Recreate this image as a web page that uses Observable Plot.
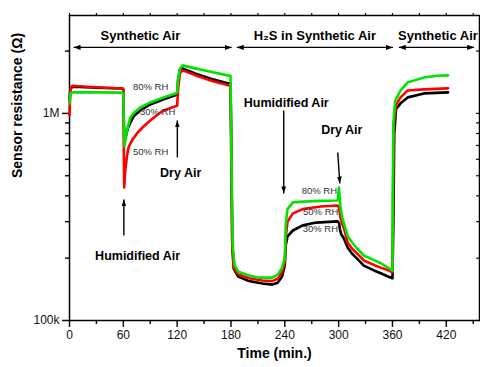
<!DOCTYPE html>
<html>
<head>
<meta charset="utf-8">
<script src="https://cdn.jsdelivr.net/npm/d3@7"></script>
<script src="https://cdn.jsdelivr.net/npm/@observablehq/plot@0.6"></script>
<style>
  body { margin: 0; background: #fff; }
  #chart svg { display: block; }
</style>
</head>
<body>
<div id="chart"></div>
<script>
// Sensor resistance (kΩ) over time (min) for three humidity levels
const rh30 = [[0,1150],[1,1330],[5,1345],[30,1330],[59,1320],[60,1300],[60.6,900],[61.5,741],[63,780],[65,850],[68,905],[72,975],[79,1034],[90,1105],[105,1169],[118,1222],[120,1240],[121,1450],[123,1620],[126,1650],[140,1560],[160,1460],[176,1400],[179.5,1390],[180.5,500],[181.5,230],[183,178],[188,163],[200,155],[215,151],[226,149],[232,152],[237,163],[240,185],[241,230],[243,255],[249,272],[260,288],[275,297],[299,301],[300.5,295],[301.5,275],[303,260],[306,248],[310,225],[315,210],[320,200],[328,184],[340,174],[347,169],[355,163],[360,160],[361,300],[362,800],[364,1050],[369,1118],[377,1195],[395,1249],[422,1263]];
const rh50 = [[0,980],[1,1300],[3,1360],[20,1345],[40,1330],[59,1320],[60,1310],[60.5,700],[61,439],[62,520],[64,620],[66,690],[70,745],[76,809],[82,860],[90,925],[98,985],[105,1034],[112,1060],[119,1085],[120,1090],[121,1300],[123,1560],[126,1613],[140,1530],[160,1430],[176,1370],[179.5,1366],[180.5,700],[181.3,240],[183,180],[188,167],[200,160],[215,156],[226,155],[233,160],[237,172],[240,192],[241,250],[243,300],[249,329],[260,345],[280,355],[299,359],[300.5,350],[302,315],[304,292],[306,278],[310,238],[315,222],[320,212],[328,195],[340,185],[347,180],[355,175],[360,171],[360.6,400],[361.5,900],[364,1100],[369,1195],[377,1291],[395,1306],[422,1321]];
const rh80 = [[0,1118],[1,1250],[3,1263],[30,1263],[59,1260],[60,1250],[60.5,900],[61.3,693],[63,780],[65,860],[68,957],[72,1010],[79,1069],[90,1130],[105,1195],[118,1249],[120,1265],[121,1450],[123,1640],[126,1706],[140,1650],[160,1580],[176,1526],[179.5,1520],[180.3,800],[181,400],[182,230],[184,185],[188,172],[200,165],[211,161],[226,161],[232,166],[237,180],[240,200],[241,290],[243,345],[249,372],[260,375],[280,378],[299,380],[300.3,439],[301,400],[302,352],[304,315],[306,294],[310,256],[315,238],[320,224],[328,206],[340,195],[347,189],[355,180],[360,174],[360.5,500],[361,900],[363,1150],[369,1291],[377,1412],[395,1492],[410,1520],[422,1526]];

const timeTicks = [0, 60, 120, 180, 240, 300, 360, 420];
const timeMinor = [30, 90, 150, 210, 270, 330, 390, 450];
const resTicks = [100, 1000];
const resTickLabels = ["100k", "1M"];
const resMinor = [200, 300, 400, 500, 600, 700, 800, 900, 2000];

// gas phases along the top: label, centre and arrow span (min)
const phases = [
  {label: "Synthetic Air", t: 79, from: 4.5, to: 180.8},
  {label: "H\u2082S in Synthetic Air", t: 273.4, from: 186.4, to: 360.5},
  {label: "Synthetic Air", t: 410.7, from: 367, to: 451}
];
const phaseLabelRes = 2381;
const phaseArrowRes = 2083;

// gas switching notes and their pointers
const notes = [
  {text: "Humidified Air", t: 241.6, r: 1118},
  {text: "Dry Air", t: 303.5, r: 828},
  {text: "Humidified Air", t: 75.9, r: 204},
  {text: "Dry Air", t: 123.9, r: 513}
];
const pointers = [
  {t1: 238.8, r1: 1034, t2: 238.8, r2: 411},
  {t1: 299, r1: 648, t2: 301.3, r2: 459},
  {t1: 60.6, r1: 257, t2: 60.6, r2: 384},
  {t1: 120.2, r1: 613, t2: 120.2, r2: 925}
];
const rhLabels = [
  {text: "80% RH", t: 90.4, r: 1335},
  {text: "30% RH", t: 98.2, r: 1011},
  {text: "50% RH", t: 90.4, r: 655},
  {text: "80% RH", t: 278.5, r: 421},
  {text: "50% RH", t: 280, r: 336},
  {text: "30% RH", t: 279.6, r: 276}
];

const resLabel = new Map(resTicks.map((d, i) => [d, resTickLabels[i]]));

// filled triangular arrowhead
function solidHead(len, half) {
  return (color, context) => {
    const doc = (context && context.document) || document;
    const ns = "http://www.w3.org/2000/svg";
    const m = doc.createElementNS(ns, "marker");
    m.setAttribute("viewBox", `${-len} ${-half} ${len} ${2 * half}`);
    m.setAttribute("markerWidth", len);
    m.setAttribute("markerHeight", 2 * half);
    m.setAttribute("markerUnits", "userSpaceOnUse");
    m.setAttribute("orient", "auto-start-reverse");
    m.setAttribute("fill", color);
    m.setAttribute("stroke", "none");
    const p = doc.createElementNS(ns, "path");
    p.setAttribute("d", `M${-len},${-half}L0,0L${-len},${half}Z`);
    m.appendChild(p);
    return m;
  };
}

const font = "'Liberation Sans', Arial, Helvetica, sans-serif";

const chart = Plot.plot({
  width: 480,
  height: 367,
  marginLeft: 69,
  marginRight: 1,
  marginTop: 15,
  marginBottom: 47,
  style: {fontFamily: font, background: "#fff", color: "#111"},
  x: {domain: [0, 457], label: null},
  y: {type: "log", domain: [100, 2970], label: null},
  marks: [
    // axes
    Plot.axisX(timeTicks, {anchor: "bottom", tickSize: 7, tickPadding: 3, fontSize: 12, strokeWidth: 1.5, label: null, tickFormat: d => String(d)}),
    Plot.axisX(timeMinor, {anchor: "bottom", tickSize: 4, strokeWidth: 1.5, label: null, tickFormat: () => ""}),
    Plot.axisX([...timeTicks, ...timeMinor], {anchor: "top", tickSize: 3, strokeWidth: 1.2, label: null, tickFormat: () => ""}),
    Plot.axisY(resTicks, {anchor: "left", tickSize: 7, tickPadding: 3, fontSize: 12, strokeWidth: 1.5, label: null, tickFormat: d => resLabel.get(d)}),
    Plot.axisY(resMinor, {anchor: "left", tickSize: 4, strokeWidth: 1.5, label: null, tickFormat: () => ""}),
    Plot.axisY([...resTicks, ...resMinor], {anchor: "right", tickSize: -4, strokeWidth: 1.2, label: null, tickFormat: () => ""}),
    Plot.frame({stroke: "#000", strokeWidth: 1.5}),

    // resistance traces
    Plot.line(rh30, {x: d => d[0], y: d => d[1], stroke: "#000000", strokeWidth: 2.6}),
    Plot.line(rh50, {x: d => d[0], y: d => d[1], stroke: "#ff0000", strokeWidth: 2.6}),
    Plot.line(rh80, {x: d => d[0], y: d => d[1], stroke: "#00e400", strokeWidth: 2.6}),

    // gas phases
    Plot.link(phases, {x1: "from", x2: "to", y1: () => phaseArrowRes, y2: () => phaseArrowRes, stroke: "#000", strokeWidth: 1.3, markerStart: solidHead(7, 2.6), markerEnd: solidHead(7, 2.6)}),
    Plot.text(phases, {x: "t", y: () => phaseLabelRes, text: "label", fontSize: 13, fontWeight: "bold", fill: "#000"}),

    // switching notes
    Plot.link(pointers, {x1: "t1", y1: "r1", x2: "t2", y2: "r2", stroke: "#000", strokeWidth: 1.4, markerEnd: solidHead(7, 2.4)}),
    Plot.text(notes, {x: "t", y: "r", text: "text", fontSize: 12.5, fontWeight: "bold", fill: "#000"}),
    Plot.text(rhLabels, {x: "t", y: "r", text: "text", fontSize: 9.5, fill: "#333"}),

    // axis titles
    Plot.text(["Time (min.)"], {frameAnchor: "bottom", dy: 37, fontSize: 14, fontWeight: "bold", fill: "#000"}),
    Plot.text(["Sensor resistance (\u03A9)"], {frameAnchor: "left", dx: -52, dy: 10, rotate: -90, fontSize: 14, fontWeight: "bold", fill: "#000"})
  ]
});

document.getElementById("chart").appendChild(chart);
</script>
</body>
</html>
